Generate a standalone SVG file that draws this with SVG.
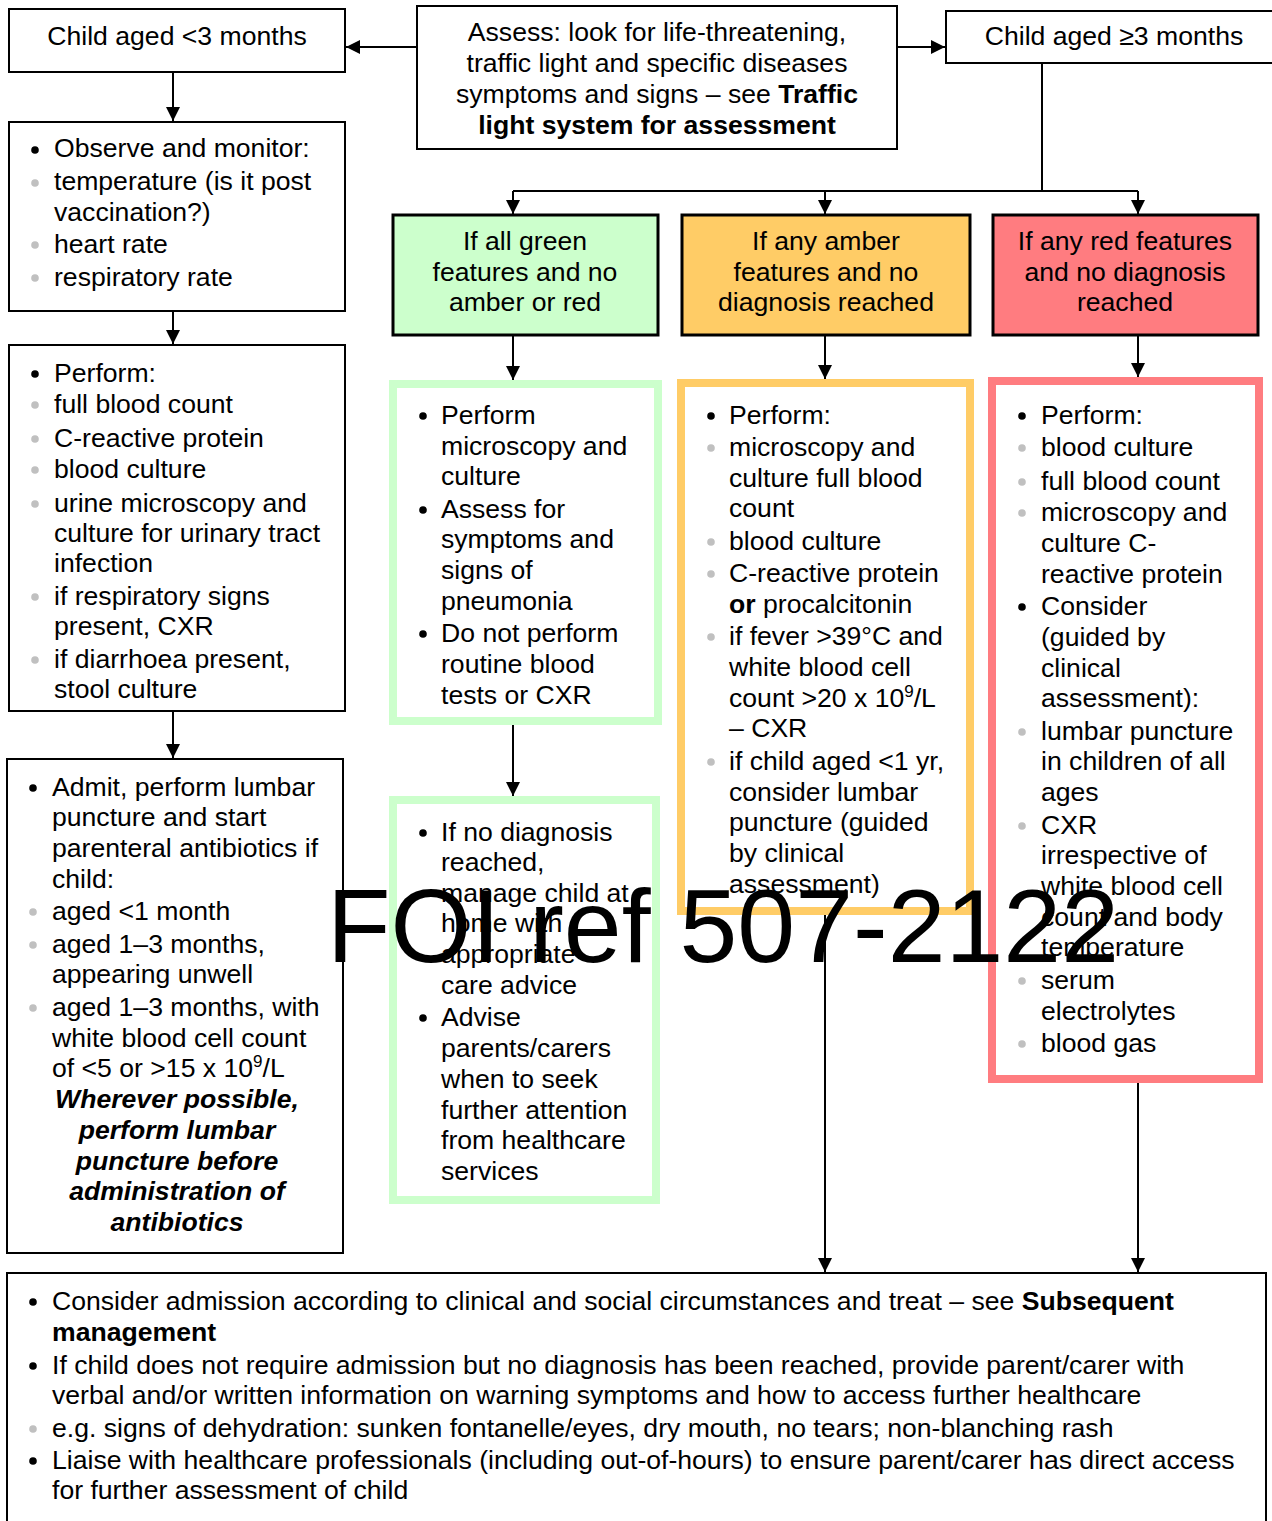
<svg xmlns="http://www.w3.org/2000/svg" width="1272" height="1521" viewBox="0 0 1272 1521">
  <style>
    .box{fill:#fff;stroke:#000;stroke-width:2}
    .hdr{stroke:#000;stroke-width:3}
    .t{font-family:"Liberation Sans",Arial,sans-serif;font-size:26.6px;fill:#000}
    .c{text-anchor:middle}
    .b{font-weight:bold}
    .bi{font-weight:bold;font-style:italic}
    .conn{stroke:#000;stroke-width:2;fill:none}
    .dot{fill:#000}
    .sub{fill:#c0c0c0}
    .wm{font-family:"Liberation Sans",Arial,sans-serif;font-size:104px;fill:#000}
  </style>
  <defs>
    <marker id="arr" viewBox="0 0 10 10" refX="10" refY="5" markerWidth="14" markerHeight="14" markerUnits="userSpaceOnUse" orient="auto">
      <path d="M0,0 L10,5 L0,10 z" fill="#000"/>
    </marker>
  </defs>
  <rect width="1272" height="1521" fill="#fff"/>

  <!-- connectors -->
  <g id="connectors">
    <line class="conn" x1="417" y1="47" x2="346" y2="47" marker-end="url(#arr)"/>
    <line class="conn" x1="897" y1="47" x2="945" y2="47" marker-end="url(#arr)"/>
    <line class="conn" x1="173" y1="73" x2="173" y2="121" marker-end="url(#arr)"/>
    <line class="conn" x1="173" y1="312" x2="173" y2="344" marker-end="url(#arr)"/>
    <line class="conn" x1="173" y1="712" x2="173" y2="758" marker-end="url(#arr)"/>
    <polyline class="conn" points="1042,63 1042,191"/>
    <polyline class="conn" points="513,191 1138,191"/>
    <line class="conn" x1="513" y1="191" x2="513" y2="214" marker-end="url(#arr)"/>
    <line class="conn" x1="825" y1="191" x2="825" y2="214" marker-end="url(#arr)"/>
    <line class="conn" x1="1138" y1="191" x2="1138" y2="214" marker-end="url(#arr)"/>
    <line class="conn" x1="513" y1="335" x2="513" y2="380" marker-end="url(#arr)"/>
    <line class="conn" x1="825" y1="335" x2="825" y2="379" marker-end="url(#arr)"/>
    <line class="conn" x1="1138" y1="335" x2="1138" y2="377" marker-end="url(#arr)"/>
    <line class="conn" x1="513" y1="725" x2="513" y2="796" marker-end="url(#arr)"/>
    <line class="conn" x1="825" y1="915" x2="825" y2="1272" marker-end="url(#arr)"/>
    <line class="conn" x1="1138" y1="1083" x2="1138" y2="1272" marker-end="url(#arr)"/>
  </g>

  <!-- age < 3 months -->
  <g id="under3">
    <rect class="box" x="9" y="9" width="336" height="63"/>
    <text class="t c" x="177" y="45">Child aged &lt;3 months</text>
  </g>

  <!-- assessment -->
  <g id="assess">
    <rect class="box" x="417" y="6" width="480" height="143"/>
    <text class="t c" x="657" y="41">Assess: look for life-threatening,</text>
    <text class="t c" x="657" y="72">traffic light and specific diseases</text>
    <text class="t c" x="657" y="103">symptoms and signs – see <tspan class="b">Traffic</tspan></text>
    <text class="t c b" x="657" y="134">light system for assessment</text>
  </g>

  <!-- age >= 3 months -->
  <g id="over3">
    <rect class="box" x="946" y="11" width="340" height="52"/>
    <text class="t c" x="1114" y="45">Child aged ≥3 months</text>
  </g>

  <!-- observe -->
  <g id="observe">
    <rect class="box" x="9" y="122" width="336" height="189"/>
    <circle class="dot" cx="35" cy="150" r="3.8"/>
    <circle class="sub" cx="35" cy="183" r="3.8"/>
    <circle class="sub" cx="35" cy="245" r="3.8"/>
    <circle class="sub" cx="35" cy="278" r="3.8"/>
    <text class="t" x="54" y="157">Observe and monitor:</text>
    <text class="t" x="54" y="190">temperature (is it post</text>
    <text class="t" x="54" y="221">vaccination?)</text>
    <text class="t" x="54" y="253">heart rate</text>
    <text class="t" x="54" y="286">respiratory rate</text>
  </g>

  <!-- perform (under 3 months) -->
  <g id="perform-under3">
    <rect class="box" x="9" y="345" width="336" height="366"/>
    <circle class="dot" cx="35" cy="374" r="3.8"/>
    <circle class="sub" cx="35" cy="405" r="3.8"/>
    <circle class="sub" cx="35" cy="439" r="3.8"/>
    <circle class="sub" cx="35" cy="470" r="3.8"/>
    <circle class="sub" cx="35" cy="504" r="3.8"/>
    <circle class="sub" cx="35" cy="597" r="3.8"/>
    <circle class="sub" cx="35" cy="660" r="3.8"/>
    <text class="t" x="54" y="382">Perform:</text>
    <text class="t" x="54" y="413">full blood count</text>
    <text class="t" x="54" y="447">C-reactive protein</text>
    <text class="t" x="54" y="478">blood culture</text>
    <text class="t" x="54" y="512">urine microscopy and</text>
    <text class="t" x="54" y="542">culture for urinary tract</text>
    <text class="t" x="54" y="572">infection</text>
    <text class="t" x="54" y="605">if respiratory signs</text>
    <text class="t" x="54" y="635">present, CXR</text>
    <text class="t" x="54" y="668">if diarrhoea present,</text>
    <text class="t" x="54" y="698">stool culture</text>
  </g>

  <!-- admit -->
  <g id="admit">
    <rect class="box" x="7" y="759" width="336" height="494"/>
    <circle class="dot" cx="33" cy="788" r="3.8"/>
    <circle class="sub" cx="33" cy="912" r="3.8"/>
    <circle class="sub" cx="33" cy="945" r="3.8"/>
    <circle class="sub" cx="33" cy="1008" r="3.8"/>
    <text class="t" x="52" y="796">Admit, perform lumbar</text>
    <text class="t" x="52" y="826">puncture and start</text>
    <text class="t" x="52" y="857">parenteral antibiotics if</text>
    <text class="t" x="52" y="888">child:</text>
    <text class="t" x="52" y="920">aged &lt;1 month</text>
    <text class="t" x="52" y="953">aged 1–3 months,</text>
    <text class="t" x="52" y="983">appearing unwell</text>
    <text class="t" x="52" y="1016">aged 1–3 months, with</text>
    <text class="t" x="52" y="1047">white blood cell count</text>
    <text class="t" x="52" y="1077">of &lt;5 or &gt;15 x 10<tspan dy="-10" font-size="17">9</tspan><tspan dy="10">/L</tspan></text>
    <text class="t c bi" x="177" y="1108">Wherever possible,</text>
    <text class="t c bi" x="177" y="1139">perform lumbar</text>
    <text class="t c bi" x="177" y="1170">puncture before</text>
    <text class="t c bi" x="177" y="1200">administration of</text>
    <text class="t c bi" x="177" y="1231">antibiotics</text>
  </g>

  <!-- green header -->
  <g id="green-head">
    <rect class="hdr" x="393" y="215" width="265" height="120" fill="#ccffcc"/>
    <text class="t c" x="525" y="250">If all green</text>
    <text class="t c" x="525" y="281">features and no</text>
    <text class="t c" x="525" y="311">amber or red</text>
  </g>

  <!-- amber header -->
  <g id="amber-head">
    <rect class="hdr" x="682" y="215" width="288" height="120" fill="#ffcc66"/>
    <text class="t c" x="826" y="250">If any amber</text>
    <text class="t c" x="826" y="281">features and no</text>
    <text class="t c" x="826" y="311">diagnosis reached</text>
  </g>

  <!-- red header -->
  <g id="red-head">
    <rect class="hdr" x="993" y="215" width="265" height="120" fill="#ff7c80"/>
    <text class="t c" x="1125" y="250">If any red features</text>
    <text class="t c" x="1125" y="281">and no diagnosis</text>
    <text class="t c" x="1125" y="311">reached</text>
  </g>

  <!-- green actions -->
  <g id="green-tests">
    <rect x="393" y="384" width="265" height="337" fill="#fff" stroke="#ccffcc" stroke-width="8"/>
    <circle class="dot" cx="423" cy="416" r="3.8"/>
    <circle class="dot" cx="423" cy="510" r="3.8"/>
    <circle class="dot" cx="423" cy="634" r="3.8"/>
    <text class="t" x="441" y="424">Perform</text>
    <text class="t" x="441" y="455">microscopy and</text>
    <text class="t" x="441" y="485">culture</text>
    <text class="t" x="441" y="518">Assess for</text>
    <text class="t" x="441" y="548">symptoms and</text>
    <text class="t" x="441" y="579">signs of</text>
    <text class="t" x="441" y="610">pneumonia</text>
    <text class="t" x="441" y="642">Do not perform</text>
    <text class="t" x="441" y="673">routine blood</text>
    <text class="t" x="441" y="704">tests or CXR</text>
  </g>

  <g id="green-home">
    <rect x="393" y="800" width="263" height="400" fill="#fff" stroke="#ccffcc" stroke-width="8"/>
    <circle class="dot" cx="423" cy="833" r="3.8"/>
    <circle class="dot" cx="423" cy="1018" r="3.8"/>
    <text class="t" x="441" y="841">If no diagnosis</text>
    <text class="t" x="441" y="871">reached,</text>
    <text class="t" x="441" y="902">manage child at</text>
    <text class="t" x="441" y="932">home with</text>
    <text class="t" x="441" y="963">appropriate</text>
    <text class="t" x="441" y="994">care advice</text>
    <text class="t" x="441" y="1026">Advise</text>
    <text class="t" x="441" y="1057">parents/carers</text>
    <text class="t" x="441" y="1088">when to seek</text>
    <text class="t" x="441" y="1119">further attention</text>
    <text class="t" x="441" y="1149">from healthcare</text>
    <text class="t" x="441" y="1180">services</text>
  </g>

  <!-- amber actions -->
  <g id="amber-tests">
    <rect x="681" y="383" width="289" height="528" fill="#fff" stroke="#ffcc66" stroke-width="8"/>
    <circle class="dot" cx="711" cy="416" r="3.8"/>
    <circle class="sub" cx="711" cy="448" r="3.8"/>
    <circle class="sub" cx="711" cy="542" r="3.8"/>
    <circle class="sub" cx="711" cy="574" r="3.8"/>
    <circle class="sub" cx="711" cy="637" r="3.8"/>
    <circle class="sub" cx="711" cy="762" r="3.8"/>
    <text class="t" x="729" y="424">Perform:</text>
    <text class="t" x="729" y="456">microscopy and</text>
    <text class="t" x="729" y="487">culture full blood</text>
    <text class="t" x="729" y="517">count</text>
    <text class="t" x="729" y="550">blood culture</text>
    <text class="t" x="729" y="582">C-reactive protein</text>
    <text class="t" x="729" y="613"><tspan class="b">or</tspan> procalcitonin</text>
    <text class="t" x="729" y="645">if fever &gt;39°C and</text>
    <text class="t" x="729" y="676">white blood cell</text>
    <text class="t" x="729" y="707">count &gt;20 x 10<tspan dy="-10" font-size="17">9</tspan><tspan dy="10">/L</tspan></text>
    <text class="t" x="729" y="737">– CXR</text>
    <text class="t" x="729" y="770">if child aged &lt;1 yr,</text>
    <text class="t" x="729" y="801">consider lumbar</text>
    <text class="t" x="729" y="831">puncture (guided</text>
    <text class="t" x="729" y="862">by clinical</text>
    <text class="t" x="729" y="893">assessment)</text>
  </g>

  <!-- red actions -->
  <g id="red-tests">
    <rect x="992" y="381" width="267" height="698" fill="#fff" stroke="#ff7c80" stroke-width="8"/>
    <circle class="dot" cx="1022" cy="416" r="3.8"/>
    <circle class="sub" cx="1022" cy="448" r="3.8"/>
    <circle class="sub" cx="1022" cy="482" r="3.8"/>
    <circle class="sub" cx="1022" cy="513" r="3.8"/>
    <circle class="dot" cx="1022" cy="607" r="3.8"/>
    <circle class="sub" cx="1022" cy="732" r="3.8"/>
    <circle class="sub" cx="1022" cy="826" r="3.8"/>
    <circle class="sub" cx="1022" cy="981" r="3.8"/>
    <circle class="sub" cx="1022" cy="1044" r="3.8"/>
    <text class="t" x="1041" y="424">Perform:</text>
    <text class="t" x="1041" y="456">blood culture</text>
    <text class="t" x="1041" y="490">full blood count</text>
    <text class="t" x="1041" y="521">microscopy and</text>
    <text class="t" x="1041" y="552">culture C-</text>
    <text class="t" x="1041" y="583">reactive protein</text>
    <text class="t" x="1041" y="615">Consider</text>
    <text class="t" x="1041" y="646">(guided by</text>
    <text class="t" x="1041" y="677">clinical</text>
    <text class="t" x="1041" y="707">assessment):</text>
    <text class="t" x="1041" y="740">lumbar puncture</text>
    <text class="t" x="1041" y="770">in children of all</text>
    <text class="t" x="1041" y="801">ages</text>
    <text class="t" x="1041" y="834">CXR</text>
    <text class="t" x="1041" y="864">irrespective of</text>
    <text class="t" x="1041" y="895">white blood cell</text>
    <text class="t" x="1041" y="926">count and body</text>
    <text class="t" x="1041" y="956">temperature</text>
    <text class="t" x="1041" y="989">serum</text>
    <text class="t" x="1041" y="1020">electrolytes</text>
    <text class="t" x="1041" y="1052">blood gas</text>
  </g>

  <!-- follow-up -->
  <g id="followup">
    <rect class="box" x="7" y="1273" width="1259" height="260"/>
    <circle class="dot" cx="33" cy="1302" r="3.8"/>
    <circle class="dot" cx="33" cy="1366" r="3.8"/>
    <circle class="sub" cx="33" cy="1429" r="3.8"/>
    <circle class="dot" cx="33" cy="1461" r="3.8"/>
    <text class="t" x="52" y="1310">Consider admission according to clinical and social circumstances and treat – see <tspan class="b">Subsequent</tspan></text>
    <text class="t b" x="52" y="1341">management</text>
    <text class="t" x="52" y="1374">If child does not require admission but no diagnosis has been reached, provide parent/carer with</text>
    <text class="t" x="52" y="1404">verbal and/or written information on warning symptoms and how to access further healthcare</text>
    <text class="t" x="52" y="1437">e.g. signs of dehydration: sunken fontanelle/eyes, dry mouth, no tears; non-blanching rash</text>
    <text class="t" x="52" y="1469">Liaise with healthcare professionals (including out-of-hours) to ensure parent/carer has direct access</text>
    <text class="t" x="52" y="1499">for further assessment of child</text>
  </g>

  <!-- reference stamp -->
  <text class="wm" x="327" y="962">FOI ref 507-2122</text>
</svg>
